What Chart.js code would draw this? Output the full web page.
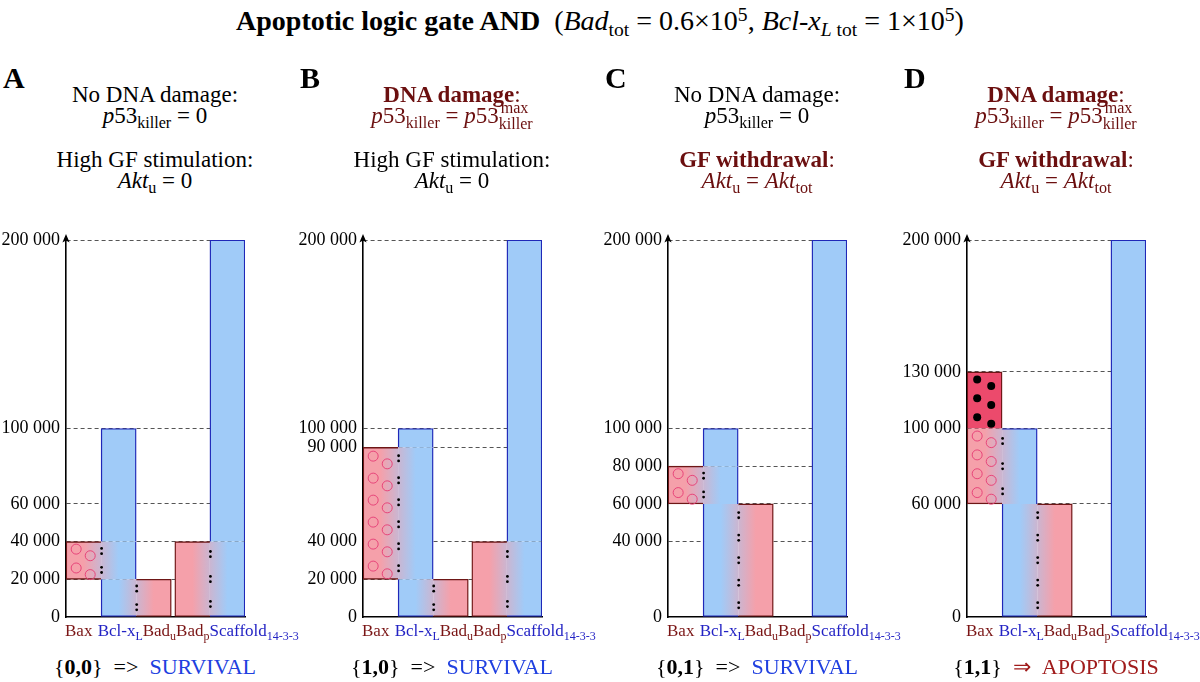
<!DOCTYPE html>
<html><head><meta charset="utf-8">
<script src="https://cdn.jsdelivr.net/npm/chart.js@4.4.1/dist/chart.umd.min.js"></script>
<style>
html,body{margin:0;padding:0;width:1200px;height:682px;overflow:hidden;background:#fff;font-family:"Liberation Serif",serif;color:#000;}
.abs{position:absolute;white-space:nowrap;}
canvas{position:absolute;top:0;}
.title{left:0;width:1200px;text-align:center;top:5px;font-size:28px;line-height:32px;}
.letter{font-weight:bold;font-size:30px;line-height:30px;top:63px;}
.line{position:absolute;width:310px;text-align:center;font-size:23px;line-height:26px;white-space:nowrap;}
.bottom{position:absolute;width:310px;text-align:center;font-size:22px;line-height:26px;white-space:nowrap;}
.red{color:#6b0f0f;}
sub{font-size:0.7em;vertical-align:baseline;position:relative;top:0.3em;}
sup{font-size:0.7em;vertical-align:baseline;position:relative;top:-0.45em;}
.ss{display:inline-block;position:relative;font-size:0.7em;}
.ssd{position:relative;top:0.4em;}
.ssu{position:absolute;left:0.12em;top:-0.62em;}
</style>
</head>
<body>
<div class="abs title"><b>Apoptotic logic gate AND</b>&nbsp; (<i>Bad</i><sub>tot</sub> = 0.6×10<sup>5</sup>, <i>Bcl-x</i><sub><i>L</i> tot</sub> = 1×10<sup>5</sup>)</div>
<div id="root"></div>
<script>
// ---------------- data ----------------
const panelLetters = ['A', 'B', 'C', 'D'];
const categoryNames = ['Bax', 'Bcl-x', 'Bad', 'Bad', 'Scaffold'];
const categorySubs  = ['', 'L', 'u', 'p', '14-3-3'];
// complexes (same range on both partner bars)
const baxBclxLComplex     = [[20000, 40000], [20000, 90000], [60000, 80000], [60000, 100000]];
const bclxLBaduComplex    = [[0, 20000], [0, 20000], [0, 60000], [0, 60000]];
const badpScaffoldComplex = [[0, 40000], [0, 40000], null, null];
// free (unbound) parts
const freeBax      = [null, null, null, [100000, 130000]];
const freeBclxL    = [[40000, 100000], [90000, 100000], [80000, 100000], null];
const freeScaffold = [[40000, 200000], [40000, 200000], [0, 200000], [0, 200000]];
// y tick labels
const yTicksA = [0, 20000, 40000, 60000, 100000, 200000];
const yTicksB = [0, 20000, 40000, 90000, 100000, 200000];
const yTicksC = [0, 40000, 60000, 80000, 100000, 200000];
const yTicksD = [0, 60000, 100000, 130000, 200000];
const dnaDamage    = [false, true, false, true];
const gfWithdrawal = [false, false, true, true];
const logicInputs  = ['0,0', '1,0', '0,1', '1,1'];
const outcomes     = ['SURVIVAL', 'SURVIVAL', 'SURVIVAL', 'APOPTOSIS'];

// ---------------- styling / layout ----------------
const yTicksAll = [yTicksA, yTicksB, yTicksC, yTicksD];
const axisX = [66, 363, 668, 967];
const CANVAS_W = 310, AXIS_W = 66, PLOT_W = 179;
const PINK = '#f5a0aa', BLUE = '#a0cbf8', BAX_FREE = '#ec4a6c';
const RED_B = '#6e1616', BLUE_B = '#1f28b8';
const LABEL_RED = '#7a1515', LABEL_BLUE = '#2323c4';
const BW = 1.4;
const baseColor = [PINK, BLUE, PINK, PINK, BLUE];
const borderCol = [RED_B, BLUE_B, RED_B, RED_B, BLUE_B];
const labelCol = [LABEL_RED, LABEL_BLUE, LABEL_RED, LABEL_RED, LABEL_BLUE];
const X_GAP = 0.1;
function xPos(i) { return i + (i >= 3 ? X_GAP : 0); }
function fmt(v) { return String(v).replace(/\B(?=(\d{3})+(?!\d))/g, ' '); }

const root = document.getElementById('root');

function headerLines(p) {
  const lines = [];
  if (dnaDamage[p]) {
    lines.push('<span class="red"><b>DNA damage</b>:</span>');
    lines.push('<span class="red"><i>p</i>53<sub>killer</sub> = <i>p</i>53<span class="ss"><span class="ssd">killer</span><span class="ssu">max</span></span></span>');
  } else {
    lines.push('No DNA damage:');
    lines.push('<i>p</i>53<sub>killer</sub> = 0');
  }
  if (gfWithdrawal[p]) {
    lines.push('<span class="red"><b>GF withdrawal</b>:</span>');
    lines.push('<span class="red"><i>Akt</i><sub>u</sub> = <i>Akt</i><sub>tot</sub></span>');
  } else {
    lines.push('High GF stimulation:');
    lines.push('<i>Akt</i><sub>u</sub> = 0');
  }
  return lines;
}

const decorPlugin = {
  id: 'decor',
  afterDatasetsDraw(chart) {
    const ctx = chart.ctx;
    chart.data.datasets.forEach((ds, di) => {
      const meta = chart.getDatasetMeta(di);
      meta.data.forEach((el, i) => {
        const r = ds.data[i];
        const {x, y, base, width} = el.getProps(['x', 'y', 'base', 'width'], true);
        const top = Math.min(y, base), bot = Math.max(y, base);
        const left = x - width / 2, right = x + width / 2, h = bot - top;
        const span = r.y[1] - r.y[0];
        ctx.save();
        if (r.cat === 0) {
          const n = Math.round(span / 11000);
          for (let k = 0; k < n; k++) {
            [[0.29, 0.4], [0.69, 0.75]].forEach(([fx, fy]) => {
              const cx = left + width * fx, cy = top + h * (k + fy) / n;
              ctx.beginPath();
              if (r.role === 'free') {
                ctx.arc(cx, cy, 4, 0, Math.PI * 2);
                ctx.fillStyle = '#000'; ctx.fill();
              } else {
                ctx.arc(cx, cy, 5, 0, Math.PI * 2);
                ctx.strokeStyle = '#e8457a'; ctx.lineWidth = 1; ctx.stroke();
              }
            });
          }
        }
        if (r.role === 'L') {
          const n = Math.max(1, Math.round(span / 12000));
          ctx.fillStyle = '#000';
          for (let k = 0; k < n; k++) {
            const cy = top + h * (k + 0.5) / n;
            [-2.6, 2.6].forEach(d => {
              ctx.beginPath(); ctx.arc(right + 0.5, cy + d, 1.4, 0, Math.PI * 2); ctx.fill();
            });
          }
        }
        ctx.restore();
      });
    });
  },
  afterDraw(chart) {
    const ctx = chart.ctx, ca = chart.chartArea;
    // arrow head on the y axis
    ctx.save();
    ctx.strokeStyle = '#000'; ctx.lineWidth = 1.5;
    ctx.beginPath(); ctx.moveTo(ca.left, ca.top + 1); ctx.lineTo(ca.left, ca.top - 3); ctx.stroke();
    ctx.fillStyle = '#000';
    ctx.beginPath();
    ctx.moveTo(ca.left, ca.top - 6);
    ctx.lineTo(ca.left - 3.6, ca.top + 2.5);
    ctx.lineTo(ca.left, ca.top + 0.5);
    ctx.lineTo(ca.left + 3.6, ca.top + 2.5);
    ctx.closePath(); ctx.fill();
    // category labels with subscripts
    let cx = ca.left - 1;
    const by = ca.bottom + 19;
    ctx.textBaseline = 'alphabetic'; ctx.textAlign = 'left';
    categoryNames.forEach((name, i) => {
      ctx.fillStyle = labelCol[i];
      ctx.font = '17px "Liberation Serif"';
      ctx.fillText(name, cx, by);
      cx += ctx.measureText(name).width;
      if (categorySubs[i]) {
        ctx.font = '12px "Liberation Serif"';
        ctx.fillText(categorySubs[i], cx, by + 4);
        cx += ctx.measureText(categorySubs[i]).width;
      }
      if (i === 0) { ctx.font = '17px "Liberation Serif"'; cx += ctx.measureText(' ').width + 1; }
    });
    ctx.restore();
  }
};

panelLetters.forEach((letter, p) => {
  const left = axisX[p] - AXIS_W;
  // panel letter
  const L = document.createElement('div');
  L.className = 'abs letter';
  L.style.left = (axisX[p] - 63) + 'px';
  L.textContent = letter;
  root.appendChild(L);
  // header lines
  const tops = [82, 103, 147, 168];
  headerLines(p).forEach((html, k) => {
    const d = document.createElement('div');
    d.className = 'line';
    d.style.left = left + 'px';
    d.style.top = tops[k] + 'px';
    d.innerHTML = html;
    root.appendChild(d);
  });
  // bottom outcome
  const b = document.createElement('div');
  b.className = 'bottom';
  b.style.left = left + 'px';
  b.style.top = '654px';
  const apo = outcomes[p] === 'APOPTOSIS';
  b.innerHTML = '{<b>' + logicInputs[p] + '</b>}&ensp;' + (apo ? '<span style="color:#a01b1b">⇒</span>' : '=&gt;') +
    '&ensp;<span style="color:' + (apo ? '#a01b1b' : '#2040e0') + '">' + outcomes[p] + '</span>';
  root.appendChild(b);

  // canvas
  const cv = document.createElement('canvas');
  cv.width = CANVAS_W; cv.height = 682;
  cv.style.left = left + 'px';
  cv.style.width = CANVAS_W + 'px'; cv.style.height = '682px';
  root.appendChild(cv);

  // segments
  const pairs = [
    {l: 0, r: 1, range: baxBclxLComplex[p]},
    {l: 1, r: 2, range: bclxLBaduComplex[p]},
    {l: 3, r: 4, range: badpScaffoldComplex[p]}
  ];
  const segs = [];
  pairs.forEach(pr => {
    if (!pr.range) return;
    segs.push({cat: pr.l, role: 'L', pair: pr, y: pr.range});
    segs.push({cat: pr.r, role: 'R', pair: pr, y: pr.range});
  });
  [[0, freeBax[p]], [1, freeBclxL[p]], [4, freeScaffold[p]]].forEach(([c, rg]) => {
    if (rg) segs.push({cat: c, role: 'free', y: rg});
  });
  segs.forEach(s => { s.x = xPos(s.cat); });
  const extent = {};
  segs.forEach(s => {
    const e = extent[s.cat] || (extent[s.cat] = [Infinity, -Infinity]);
    e[0] = Math.min(e[0], s.y[0]); e[1] = Math.max(e[1], s.y[1]);
  });
  const roles = ['free', 'L', 'R'];
  const datasets = roles.map(role => ({
    label: role,
    data: segs.filter(s => s.role === role),
    grouped: false,
    categoryPercentage: 1,
    barPercentage: 1,
    borderSkipped: false,
    backgroundColor(c) {
      const r = c.raw; if (!r) return 'rgba(0,0,0,0)';
      if (r.role === 'free') return r.cat === 0 ? BAX_FREE : baseColor[r.cat];
      const xs = c.chart.scales.x;
      if (!xs) return baseColor[r.cat];
      const x0 = xs.getPixelForValue(xPos(r.pair.l)), x1 = xs.getPixelForValue(xPos(r.pair.r));
      if (!isFinite(x0) || !isFinite(x1) || x0 === x1) return baseColor[r.cat];
      const g = c.chart.ctx.createLinearGradient(x0, 0, x1, 0);
      g.addColorStop(0, baseColor[r.pair.l]);
      g.addColorStop(1, baseColor[r.pair.r]);
      return g;
    },
    borderColor(c) { const r = c.raw; return r ? borderCol[r.cat] : '#000'; },
    borderWidth(c) {
      const r = c.raw; if (!r) return 0;
      const e = extent[r.cat];
      return {
        top: r.y[1] === e[1] ? BW : 0,
        bottom: r.y[0] === e[0] ? BW : 0,
        left: r.role === 'R' ? 0 : BW,
        right: r.role === 'L' ? 0 : BW
      };
    }
  }));
  const ticks = yTicksAll[p];
  new Chart(cv, {
    type: 'bar',
    data: {datasets},
    options: {
      responsive: false,
      animation: false,
      layout: {padding: {top: 240, right: CANVAS_W - AXIS_W - PLOT_W, bottom: 0, left: 0}},
      plugins: {legend: {display: false}, tooltip: {enabled: false}},
      scales: {
        x: {
          type: 'linear', min: -0.5, max: 4 + X_GAP + 0.5, offset: false, z: 1,
          grid: {display: false, drawTicks: false},
          border: {display: true, color: '#000', width: 1.6},
          ticks: {display: false},
          afterFit(s) { s.height = 65; }
        },
        y: {
          type: 'linear', min: 0, max: 200000, z: 1,
          afterBuildTicks(s) { s.ticks = ticks.map(v => ({value: v})); },
          ticks: {padding: 6, color: '#000', font: {family: 'Liberation Serif', size: 18}, callback: v => fmt(v)},
          grid: {drawTicks: false, lineWidth: 1, color: c => (c.tick && c.tick.value === 0) ? 'rgba(0,0,0,0)' : '#555'},
          border: {display: true, color: '#000', width: 1.6, dash: [4, 3]},
          afterFit(s) { s.width = AXIS_W; }
        }
      }
    },
    plugins: [decorPlugin]
  });
});
</script>
</body></html>
